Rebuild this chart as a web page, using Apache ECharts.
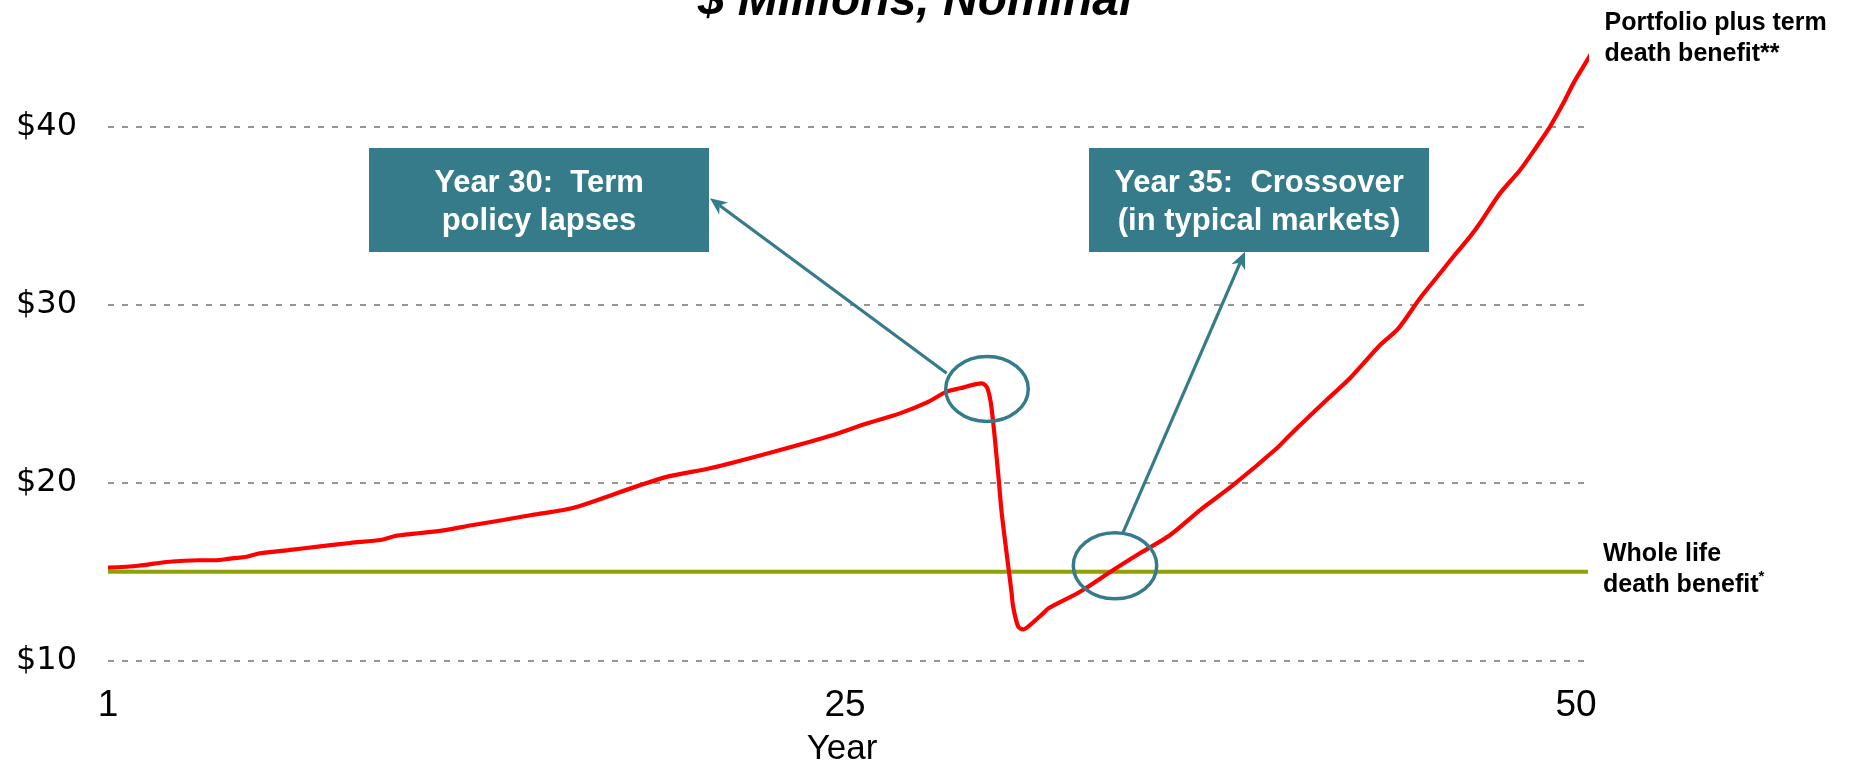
<!DOCTYPE html>
<html><head><meta charset="utf-8">
<script src="https://cdn.jsdelivr.net/npm/echarts@6/dist/echarts.min.js"></script>
<style>html,body{margin:0;padding:0;background:#fff}#chart{width:1858px;height:763px}</style>
</head><body><div id="chart"></div>
<script>
// ---- data ----
const portfolioYears = [1.0,2.01,2.96,4.01,4.57,5.07,5.57,6.07,7.02,8.08,9.08,10.14,10.58,11.08,12.14,13.19,14.19,15.14,16.2,16.75,19.55,21.13,23.1,25.08,26.27,27.43,28.32,28.99,29.44,30.16,30.35,30.49,30.71,30.83,31.16,31.21,31.38,31.55,31.77,32.27,32.39,33.44,34.55,35.44,36.45,37.45,38.56,40.01,40.45,41.67,42.45,43.46,44.07,44.79,45.46,45.9,46.46,46.79,47.46,48.13,48.68,49.13,49.57,49.91,50.24,50.57];
const portfolioValues = [15.23,15.34,15.55,15.65,15.65,15.74,15.83,16.04,16.22,16.43,16.62,16.80,17.01,17.12,17.31,17.63,17.91,18.19,18.47,18.70,20.29,20.83,21.69,22.63,23.30,23.90,24.50,25.12,25.31,25.59,25.31,24.19,20.53,18.29,13.79,13.04,11.92,11.77,12.01,12.76,12.95,13.88,15.10,16.04,17.07,18.47,19.88,21.94,22.69,24.65,25.87,27.74,28.68,30.37,31.77,32.70,33.83,34.58,36.26,37.57,38.88,40.01,41.32,42.44,43.38,44.31];
const wholeLifeYears = [1, 50.63];
const wholeLifeValues = [15, 15];
const xTickValues = [1, 25, 50];
const yTickMin = 10, yTickMax = 45, yTickStep = 10;
const titleText = '$ Millions, Nominal';
const xAxisName = 'Year';
const portfolioLabel = 'Portfolio plus term\ndeath benefit**';
const wholeLifeLabel = 'Whole life\ndeath benefit{sup|*}';
const callout1Text = 'Year 30:  Term\npolicy lapses';
const callout2Text = 'Year 35:  Crossover\n(in typical markets)';

// ---- styling ----
const FONT = '"Liberation Sans", Arial, sans-serif';
const TEAL = '#367b8a';
const RED = '#ff0000';
const GREEN = '#8fa103';

function arrowPts(x0, y0, x1, y1) {
  const dx = x1 - x0, dy = y1 - y0, L = Math.hypot(dx, dy);
  const ux = dx / L, uy = dy / L, nx = -uy, ny = ux;
  const len = 17, w = 7.5, notch = 5;
  return {
    head: [[x1, y1], [x1 - len * ux + w * nx, y1 - len * uy + w * ny], [x1 - (len - notch) * ux, y1 - (len - notch) * uy], [x1 - len * ux - w * nx, y1 - len * uy - w * ny]],
    end: [x1 - (len - notch) * ux, y1 - (len - notch) * uy]
  };
}
function callout(x, y, w, h, text) {
  return [
    { type: 'rect', shape: { x: x, y: y, width: w, height: h }, style: { fill: TEAL }, z: 100 },
    { type: 'text', x: x + w / 2, y: y + h / 2 + 2.5, z: 101,
      style: { text: text, fill: '#fff', fontSize: 31, fontWeight: 'bold', fontFamily: FONT, align: 'center', verticalAlign: 'middle', lineHeight: 37.5 } }
  ];
}
function arrow(x0, y0, x1, y1) {
  const a = arrowPts(x0, y0, x1, y1);
  return [
    { type: 'line', shape: { x1: x0, y1: y0, x2: a.end[0], y2: a.end[1] }, style: { stroke: TEAL, lineWidth: 3.2 }, z: 100 },
    { type: 'polygon', shape: { points: a.head }, style: { fill: TEAL }, z: 100 }
  ];
}

const chart = echarts.init(document.getElementById('chart'), null, { renderer: 'canvas' });
const option = {
  animation: false,
  backgroundColor: '#fff',
  grid: { left: 108, right: 272, top: 37.8, bottom: 102.2, containLabel: false, outerBoundsMode: 'none' },
  xAxis: {
    type: 'value', min: 1, max: 50.33,
    axisLine: { show: false }, axisTick: { show: false }, splitLine: { show: false },
    axisLabel: {
      customValues: xTickValues, fontSize: 37, color: '#000', margin: 26, fontFamily: FONT,
      formatter: v => (v === 25 ? '{s|' + v + '}' : String(v)),
      rich: { s: { fontSize: 37, color: '#000', fontFamily: FONT, padding: [0, 0, 0, 36] } }
    },
    name: xAxisName, nameLocation: 'middle', nameGap: 71,
    nameTextStyle: { fontSize: 35, color: '#000', fontFamily: FONT, padding: [0, 10, 0, 0] }
  },
  yAxis: {
    type: 'value', min: yTickMin, max: yTickMax, interval: yTickStep,
    axisLine: { show: false }, axisTick: { show: false },
    axisLabel: { formatter: v => '$' + v, fontSize: 32, color: '#000', margin: 31, fontFamily: '"DejaVu Sans", sans-serif', showMaxLabel: false },
    splitLine: { show: true, showMaxLine: false, lineStyle: { color: '#969696', width: 2, type: [6, 8] } }
  },
  series: [
    {
      type: 'line', name: 'Whole life', data: wholeLifeYears.map((x, i) => [x, wholeLifeValues[i]]),
      showSymbol: false, clip: false, lineStyle: { color: GREEN, width: 4 }, z: 2,
      endLabel: {
        show: true, formatter: wholeLifeLabel, distance: 0, offset: [15, -2.5],
        fontSize: 25, fontWeight: 'bold', fontFamily: FONT, color: '#000', lineHeight: 31,
        rich: { sup: { fontSize: 15, fontWeight: 'bold', fontFamily: FONT, color: '#000', verticalAlign: 'top', lineHeight: 31 } }
      }
    },
    {
      type: 'line', name: 'Portfolio', data: portfolioYears.map((x, i) => [x, portfolioValues[i]]),
      showSymbol: false, clip: false, smooth: 0.3,
      lineStyle: { color: RED, width: 4.2 }, z: 3,
      endLabel: {
        show: true, formatter: portfolioLabel, distance: 0, offset: [15.5, -18.3],
        fontSize: 25, fontWeight: 'bold', fontFamily: FONT, color: '#000', lineHeight: 31.5
      }
    }
  ],
  graphic: [].concat(
    [{ type: 'text', x: 915, y: 2, z: 100,
       style: { text: titleText, fill: '#000', fontSize: 48, fontWeight: 'bold', fontStyle: 'italic', fontFamily: FONT, align: 'center', verticalAlign: 'middle' } }],
    callout(369, 148, 340, 104, callout1Text),
    callout(1089, 148, 340, 104, callout2Text),
    arrow(946.7, 373.3, 710, 198.3),
    arrow(1122.7, 533.3, 1245, 251.7),
    [
      { type: 'ellipse', shape: { cx: 987, cy: 389, rx: 41.3, ry: 32.5 }, style: { fill: null, stroke: TEAL, lineWidth: 3.5 }, z: 100 },
      { type: 'ellipse', shape: { cx: 1115, cy: 565.7, rx: 41.7, ry: 33 }, style: { fill: null, stroke: TEAL, lineWidth: 3.5 }, z: 100 }
    ]
  )
};
chart.setOption(option);
</script>
</body></html>
